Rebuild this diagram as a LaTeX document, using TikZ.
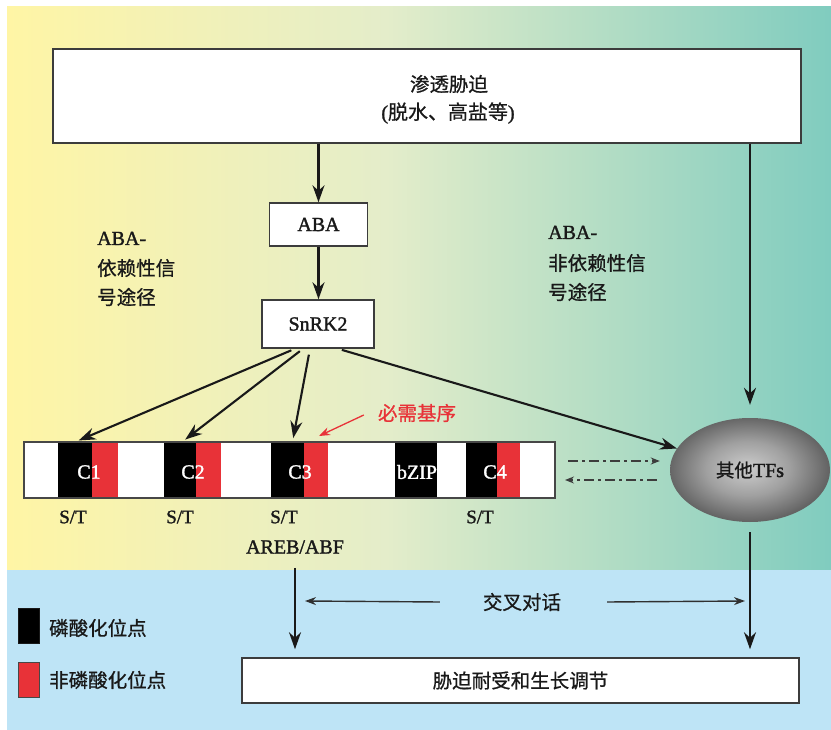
\documentclass[tikz,border=0pt]{standalone}
\usepackage{fontspec}
\setmainfont{Liberation Serif}[FakeBold=1.5]
\newfontfamily\cjk{Noto Sans CJK SC}[FakeBold=0.8]
\usetikzlibrary{arrows.meta,shapes.geometric}
\definecolor{bgL}{RGB}{255,245,165}
\definecolor{bgM}{RGB}{228,237,202}
\definecolor{bgR}{RGB}{128,204,191}
\definecolor{bgB}{RGB}{190,228,246}
\definecolor{segR}{RGB}{232,50,56}
\definecolor{ink}{RGB}{25,25,25}
\definecolor{tfin}{RGB}{205,205,205}
\definecolor{tfmid}{RGB}{160,160,160}
\definecolor{tfout}{RGB}{100,100,100}
\pgfdeclarehorizontalshading{bgshade}{100bp}{color(0bp)=(bgL); color(25bp)=(bgL); color(48bp)=(bgM); color(75bp)=(bgR); color(100bp)=(bgR)}
\pgfdeclareradialshading{tfshade}{\pgfpoint{-1bp}{1bp}}{color(0bp)=(tfin); color(13bp)=(tfmid); color(25bp)=(tfout); color(50bp)=(tfout)}
\begin{document}
\begin{tikzpicture}[x=1pt,y=-1pt,
  latin/.style={inner sep=0, text=ink, font=\fontsize{20}{24}\selectfont},
  cjkt/.style={inner sep=0, text=ink, font=\cjk\fontsize{19.5}{24}\selectfont},
  box/.style={draw=ink!85, line width=1.5pt, fill=white, inner sep=0},
  seg/.style={inner sep=0, outer sep=0, minimum height=56pt, anchor=north west},
  wlab/.style={inner sep=0, text=white, font=\fontsize{20}{24}\selectfont},
  arr/.style={-{Stealth[length=17pt,width=12pt]}, line width=2.1pt, draw=ink},
  arrs/.style={-{Stealth[length=11pt,width=8pt]}, line width=1.4pt, draw=ink!90},
  dda/.style={-{Stealth[length=9pt,width=7pt]}, line width=1.4pt, draw=ink!85, dash pattern=on 10pt off 4pt on 3pt off 4pt},
  rarr/.style={-{Stealth[length=11pt,width=8pt]}, line width=1.3pt, draw=segR}
]
\useasboundingbox (0,0) rectangle (831,730);
\fill[white] (0,0) rectangle (831,730);
\shade[shading=bgshade] (7,7) rectangle (831,570);
\fill[bgB] (7,570) rectangle (831,730);

% top box
\node[box, minimum width=748pt, minimum height=94pt] (top) at (427,96) {};
\node[cjkt] (t1) at (449,84) {渗透胁迫};
\node[latin] (t2) at (448,113) {({\cjk 脱水、高盐等})};

% ABA and SnRK2
\node[box, minimum width=98pt, minimum height=43pt, latin] (aba) at (318.5,224.5) {ABA};
\node[box, minimum width=112pt, minimum height=48pt, latin] (snrk) at (318,324) {SnRK2};

% side labels
\node[latin, anchor=base west] (l1) at (97,245) {ABA-};
\node[cjkt, anchor=west] (l2) at (97,268) {依赖性信};
\node[cjkt, anchor=west] (l3) at (97,297) {号途径};
\node[latin, anchor=base west] (r1) at (548,239) {ABA-};
\node[cjkt, anchor=west] (r2) at (548,263) {非依赖性信};
\node[cjkt, anchor=west] (r3) at (548,292) {号途径};

% gene bar
\node[seg, fill=white, minimum width=531pt] (bar) at (24,442) {};
\node[seg, fill=black, minimum width=34pt] (c1k) at (58,442) {};
\node[seg, fill=segR, minimum width=26pt] (c1r) at (92,442) {};
\node[seg, fill=black, minimum width=32pt] (c2k) at (164,442) {};
\node[seg, fill=segR, minimum width=25pt] (c2r) at (196,442) {};
\node[seg, fill=black, minimum width=33pt] (c3k) at (271,442) {};
\node[seg, fill=segR, minimum width=24pt] (c3r) at (304,442) {};
\node[seg, fill=black, minimum width=42pt] (bz) at (395,442) {};
\node[seg, fill=black, minimum width=31pt] (c4k) at (466,442) {};
\node[seg, fill=segR, minimum width=23pt] (c4r) at (497,442) {};
\draw[draw=ink!80, line width=1.3pt] (bar.north west) rectangle (bar.south east);
\node[wlab] (c1) at (89,472) {C1};
\node[wlab] (c2) at (193,472) {C2};
\node[wlab] (c3) at (300,472) {C3};
\node[wlab] (bzl) at (417,472) {bZIP};
\node[wlab] (c4) at (495,472) {C4};

\node[latin, font=\fontsize{19}{22}\selectfont] (st1) at (73,517) {S/T};
\node[latin, font=\fontsize{19}{22}\selectfont] (st2) at (180,517) {S/T};
\node[latin, font=\fontsize{19}{22}\selectfont] (st3) at (284,517) {S/T};
\node[latin, font=\fontsize{19}{22}\selectfont] (st4) at (480,517) {S/T};
\node[latin] (areb) at (295,547) {AREB/ABF};

% required motif
\node[cjkt, text=segR] (req) at (417,413) {必需基序};
\draw[rarr] ([xshift=-14pt,yshift=-2pt]req.west) -- ([xshift=3pt,yshift=6pt]c3r.north);

% other TFs
\node[ellipse, minimum width=160pt, minimum height=104pt, inner sep=0, shade, shading=tfshade, latin] (tfs) at (750,470) {{\cjk\fontsize{18.5}{20}\selectfont 其他}TFs};

% bottom box
\node[box, minimum width=557pt, minimum height=45pt, cjkt] (bot) at (520.5,680.5) {胁迫耐受和生长调节};

% legend
\node[draw=ink, line width=1pt, fill=black, minimum width=21pt, minimum height=35pt, inner sep=0] (lgk) at (29,625.5) {};
\node[draw=ink!80, line width=1pt, fill=segR, minimum width=21pt, minimum height=35pt, inner sep=0] (lgr) at (29,679.5) {};
\node[cjkt, anchor=west] (lgkt) at (49,628) {磷酸化位点};
\node[cjkt, anchor=west] (lgrt) at (49,680) {非磷酸化位点};

% crosstalk
\node[cjkt] (xt) at (522,602) {交叉对话};
\coordinate (xl) at (305,601);
\coordinate (xr) at (745,601);
\draw[arrs] ([xshift=-43pt]xt.west) -- (xl);
\draw[arrs] ([xshift=46pt]xt.east) -- (xr);

% main arrows
\draw[arr] (aba.north |- top.south) -- (aba.north);
\draw[arr] (aba.south) -- (aba.south |- snrk.north);
\draw[arr] (tfs.north |- top.south) -- ([yshift=13pt]tfs.north);
\draw[arr, shorten <=4pt, shorten >=4pt] ([xshift=-23pt]snrk.south) -- (c1k.north);
\draw[arr, shorten <=4pt, shorten >=4pt] ([xshift=-15pt]snrk.south) -- ([xshift=2pt]c2k.north);
\draw[arr, shorten <=6pt, shorten >=4pt] ([xshift=-8pt]snrk.south) -- ([xshift=5pt]c3k.north);
\draw[arr, shorten <=4pt] ([xshift=20pt]snrk.south) -- (tfs);

% dash-dot arrows
\coordinate (dd1a) at (568,461);
\coordinate (dd2b) at (565,480);
\draw[dda] (dd1a) -- ([xshift=-10pt,yshift=9pt]tfs.west);
\draw[dda] ([xshift=-13pt,yshift=-10pt]tfs.west) -- (dd2b);

% to bottom
\draw[arr, shorten <=14pt, shorten >=8pt] (areb.south) -- (areb.south |- bot.north);
\draw[arr, shorten <=10pt, shorten >=8pt] (tfs.south) -- (tfs.south |- bot.north);
\end{tikzpicture}
\end{document}
